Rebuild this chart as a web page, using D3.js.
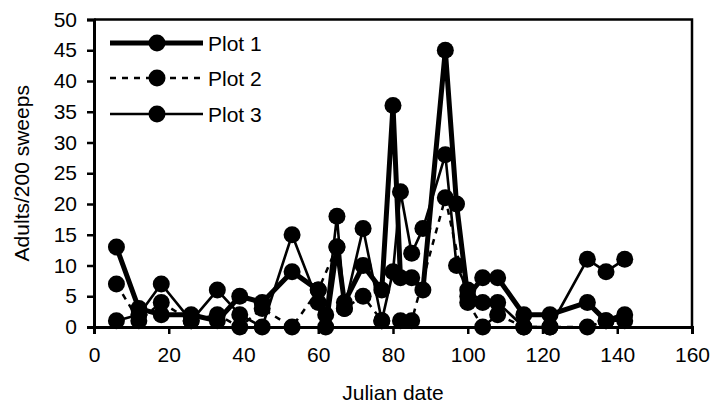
<!DOCTYPE html>
<html>
<head>
<meta charset="utf-8">
<script src="https://cdn.jsdelivr.net/npm/d3@7"></script>
<style>
  html, body { margin: 0; padding: 0; background: #fff; }
  svg { display: block; }
  text { font-family: Arial, "Liberation Sans", sans-serif; fill: #000; }
</style>
</head>
<body>
<svg id="chart" width="712" height="411"></svg>
<script>
// ---- data ----
const plot1Dates  = [6,12,18,26,33,39,45,53,60,62,65,67,72,77,80,82,85,88,94,97,100,104,108,115,122,132,137,142];
const plot1Values = [13,3,2,2,1,5,4,9,6,0,13,4,10,6,36,8,8,6,45,20,5,8,8,2,2,4,1,2];
const plot2Dates  = [6,12,18,26,33,39,45,53,60,65,67,72,77,82,85,94,100,104,108,115,122,132,137,142];
const plot2Values = [7,1,4,1,2,0,3,0,6,13,3,5,1,1,1,21,4,0,2,0,0,0,1,1];
const plot3Dates  = [6,12,18,26,33,39,45,53,60,62,65,67,72,77,80,82,85,88,94,97,100,104,108,115,122,132,137,142];
const plot3Values = [1,2,7,1,6,2,0,15,4,2,18,3,16,1,9,22,12,16,28,10,6,4,4,0,0,11,9,11];
const seriesNames = ["Plot 1","Plot 2","Plot 3"];
const xTicks = [0,20,40,60,80,100,120,140,160];
const yTicks = [0,5,10,15,20,25,30,35,40,45,50];
const xTitle = "Julian date";
const yTitle = "Adults/200 sweeps";

const series = [
  {name: seriesNames[0], x: plot1Dates, y: plot1Values, width: 5, dash: null},
  {name: seriesNames[1], x: plot2Dates, y: plot2Values, width: 2.5, dash: "6,6"},
  {name: seriesNames[2], x: plot3Dates, y: plot3Values, width: 2.6, dash: null}
];

const svg = d3.select("#chart");
const mLeft = 94, mRight = 692, mTop = 19.5, mBottom = 327;
const x = d3.scaleLinear().domain([0,160]).range([mLeft,mRight]);
const y = d3.scaleLinear().domain([0,50]).range([mBottom,mTop]);
const fs = 21;

// plot border (top and right)
svg.append("path")
  .attr("d", `M${mLeft},${mTop}H${mRight}V${mBottom}`)
  .attr("fill","none").attr("stroke","#000").attr("stroke-width",2.5);

// axes
const xAxis = svg.append("g").attr("transform",`translate(0,${mBottom})`)
  .call(d3.axisBottom(x).tickValues(xTicks).tickSize(7).tickPadding(13).tickFormat(d3.format("d")));
const yAxis = svg.append("g").attr("transform",`translate(${mLeft},0)`)
  .call(d3.axisLeft(y).tickValues(yTicks).tickSize(7).tickPadding(10).tickFormat(d3.format("d")));
[xAxis,yAxis].forEach(g=>{
  g.select(".domain").attr("stroke","#000").attr("stroke-width",3);
  g.selectAll(".tick line").attr("stroke","#000").attr("stroke-width",2.5);
  g.selectAll(".tick text").style("font-size",fs+"px").style("font-family","Arial, 'Liberation Sans', sans-serif").attr("fill","#000");
});

// titles
svg.append("text").attr("x",(mLeft+mRight)/2).attr("y",400).attr("text-anchor","middle")
  .style("font-size",fs+"px").text(xTitle);
svg.append("text").attr("transform",`translate(29,${(mTop+mBottom)/2}) rotate(-90)`)
  .attr("text-anchor","middle").style("font-size",fs+"px").text(yTitle);

// series
const g = svg.append("g");
series.forEach(s=>{
  const pts = s.x.map((d,i)=>[d,s.y[i]]);
  const line = d3.line().x(d=>x(d[0])).y(d=>y(d[1]));
  g.append("path").attr("d",line(pts)).attr("fill","none").attr("stroke","#000")
    .attr("stroke-width",s.width).attr("stroke-dasharray",s.dash).attr("stroke-linejoin","round");
});
series.forEach(s=>{
  const pts = s.x.map((d,i)=>[d,s.y[i]]);
  g.selectAll(null).data(pts).enter().append("circle")
    .attr("cx",d=>x(d[0])).attr("cy",d=>y(d[1])).attr("r",8.5).attr("fill","#000");
});

// legend
const legY = [43,78,114];
series.forEach((s,i)=>{
  const lg = svg.append("g");
  lg.append("line").attr("x1",110).attr("x2",203).attr("y1",legY[i]).attr("y2",legY[i])
    .attr("stroke","#000").attr("stroke-width",s.width).attr("stroke-dasharray",s.dash);
  lg.append("circle").attr("cx",157).attr("cy",legY[i]).attr("r",8.5).attr("fill","#000");
  lg.append("text").attr("x",208).attr("y",legY[i]+7.5).style("font-size",fs+"px").text(s.name);
});
</script>
</body>
</html>
